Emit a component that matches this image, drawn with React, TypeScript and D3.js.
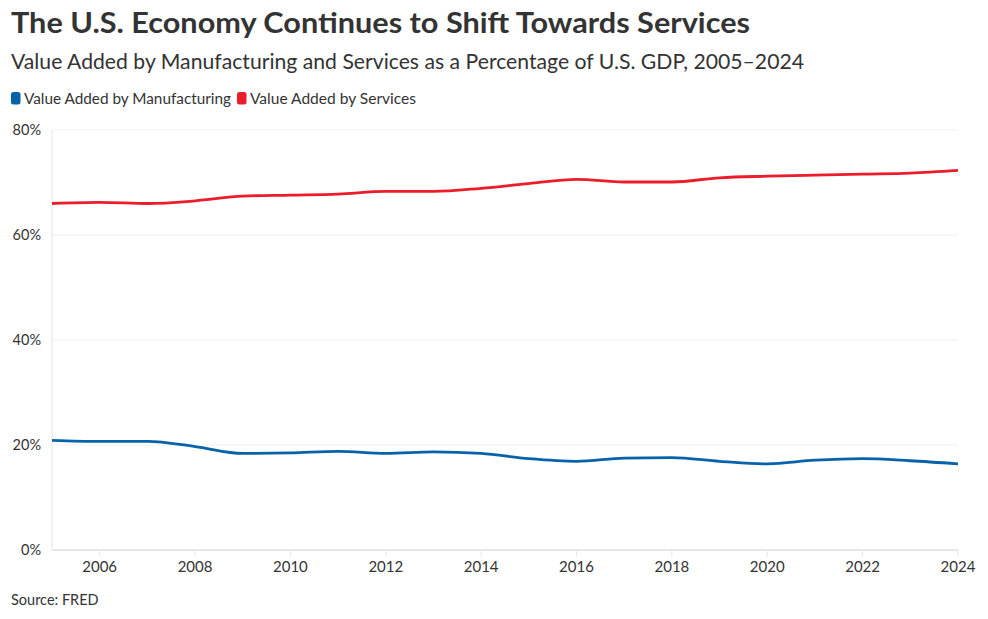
import React from 'react'
import * as d3 from 'd3'

const years = d3.range(2005, 2025)
const manufacturing = [20.9, 20.7, 20.7, 19.7, 18.4, 18.5, 18.8, 18.4, 18.7, 18.4, 17.4, 16.9, 17.5, 17.6, 16.9, 16.4, 17.1, 17.4, 17.0, 16.4]
const services = [66.0, 66.2, 66.0, 66.5, 67.4, 67.6, 67.8, 68.3, 68.3, 68.9, 69.8, 70.6, 70.1, 70.1, 70.9, 71.2, 71.4, 71.6, 71.8, 72.3]
const yTicks = [0, 20, 40, 60, 80]
const xTicks = [2006, 2008, 2010, 2012, 2014, 2016, 2018, 2020, 2022, 2024]

const series = [
    { name: 'Value Added by Manufacturing', values: manufacturing, color: '#0763a9', width: 207 },
    { name: 'Value Added by Services', values: services, color: '#ec1c2a', width: 166 },
]

const width = 988
const height = 619
const margin = { top: 130, right: 30, bottom: 69, left: 52 }
const font = 'Lato, "Noto Sans", sans-serif'

export default function App() {
    const x = d3.scaleLinear().domain([2005, 2024]).range([margin.left, width - margin.right])
    const y = d3.scaleLinear().domain([0, 80]).range([height - margin.bottom, margin.top])

    const line = d3
        .line<number>()
        .x((_, i) => x(years[i]))
        .y(d => y(d))
        .curve(d3.curveMonotoneX)

    const legendX = [11, 237]

    return (
        <svg width={width} height={height} style={{ position: 'absolute', left: 0, top: 0, fontFamily: font }}>
            <rect width={width} height={height} fill="#fff" />
            <text x={11} y={33} fontSize={28} fontWeight={700} fill="#333" textLength={739} lengthAdjust="spacingAndGlyphs">
                The U.S. Economy Continues to Shift Towards Services
            </text>
            <text x={11} y={69} fontSize={20.5} fill="#333" textLength={793} lengthAdjust="spacingAndGlyphs">
                Value Added by Manufacturing and Services as a Percentage of U.S. GDP, 2005–2024
            </text>

            {series.map((s, i) => (
                <g key={s.name} transform={`translate(${legendX[i]}, 92)`}>
                    <rect x={0} y={0} width={9.5} height={12.5} rx={2.5} fill={s.color} />
                    <text x={13} y={11.5} fontSize={14.5} fill="#333" textLength={s.width} lengthAdjust="spacingAndGlyphs">
                        {s.name}
                    </text>
                </g>
            ))}

            {/* grid */}
            {yTicks.map(t => (
                <g key={t}>
                    <line
                        x1={margin.left}
                        x2={width - margin.right}
                        y1={y(t)}
                        y2={y(t)}
                        stroke={t === 0 ? '#e6e6e6' : '#efefef'}
                        strokeWidth={t === 0 ? 2 : 1.2}
                    />
                    <text x={41} y={y(t) + 5} textAnchor="end" fontSize={14.5} fill="#333">
                        {t}%
                    </text>
                </g>
            ))}
            <line x1={margin.left} x2={margin.left} y1={margin.top} y2={y(0)} stroke="#ececec" strokeWidth={1.5} />

            {xTicks.map(t => (
                <g key={t}>
                    <line x1={x(t)} x2={x(t)} y1={y(0)} y2={y(0) + 7} stroke="#e6e6e6" strokeWidth={1} />
                    <text x={x(t)} y={y(0) + 22} textAnchor="middle" fontSize={15} fill="#333">
                        {t}
                    </text>
                </g>
            ))}

            {series.map(s => (
                <path key={s.name} d={line(s.values) ?? ''} fill="none" stroke={s.color} strokeWidth={2.8} />
            ))}

            <text x={11} y={605} fontSize={14.5} fill="#333">
                Source: FRED
            </text>
        </svg>
    )
}
